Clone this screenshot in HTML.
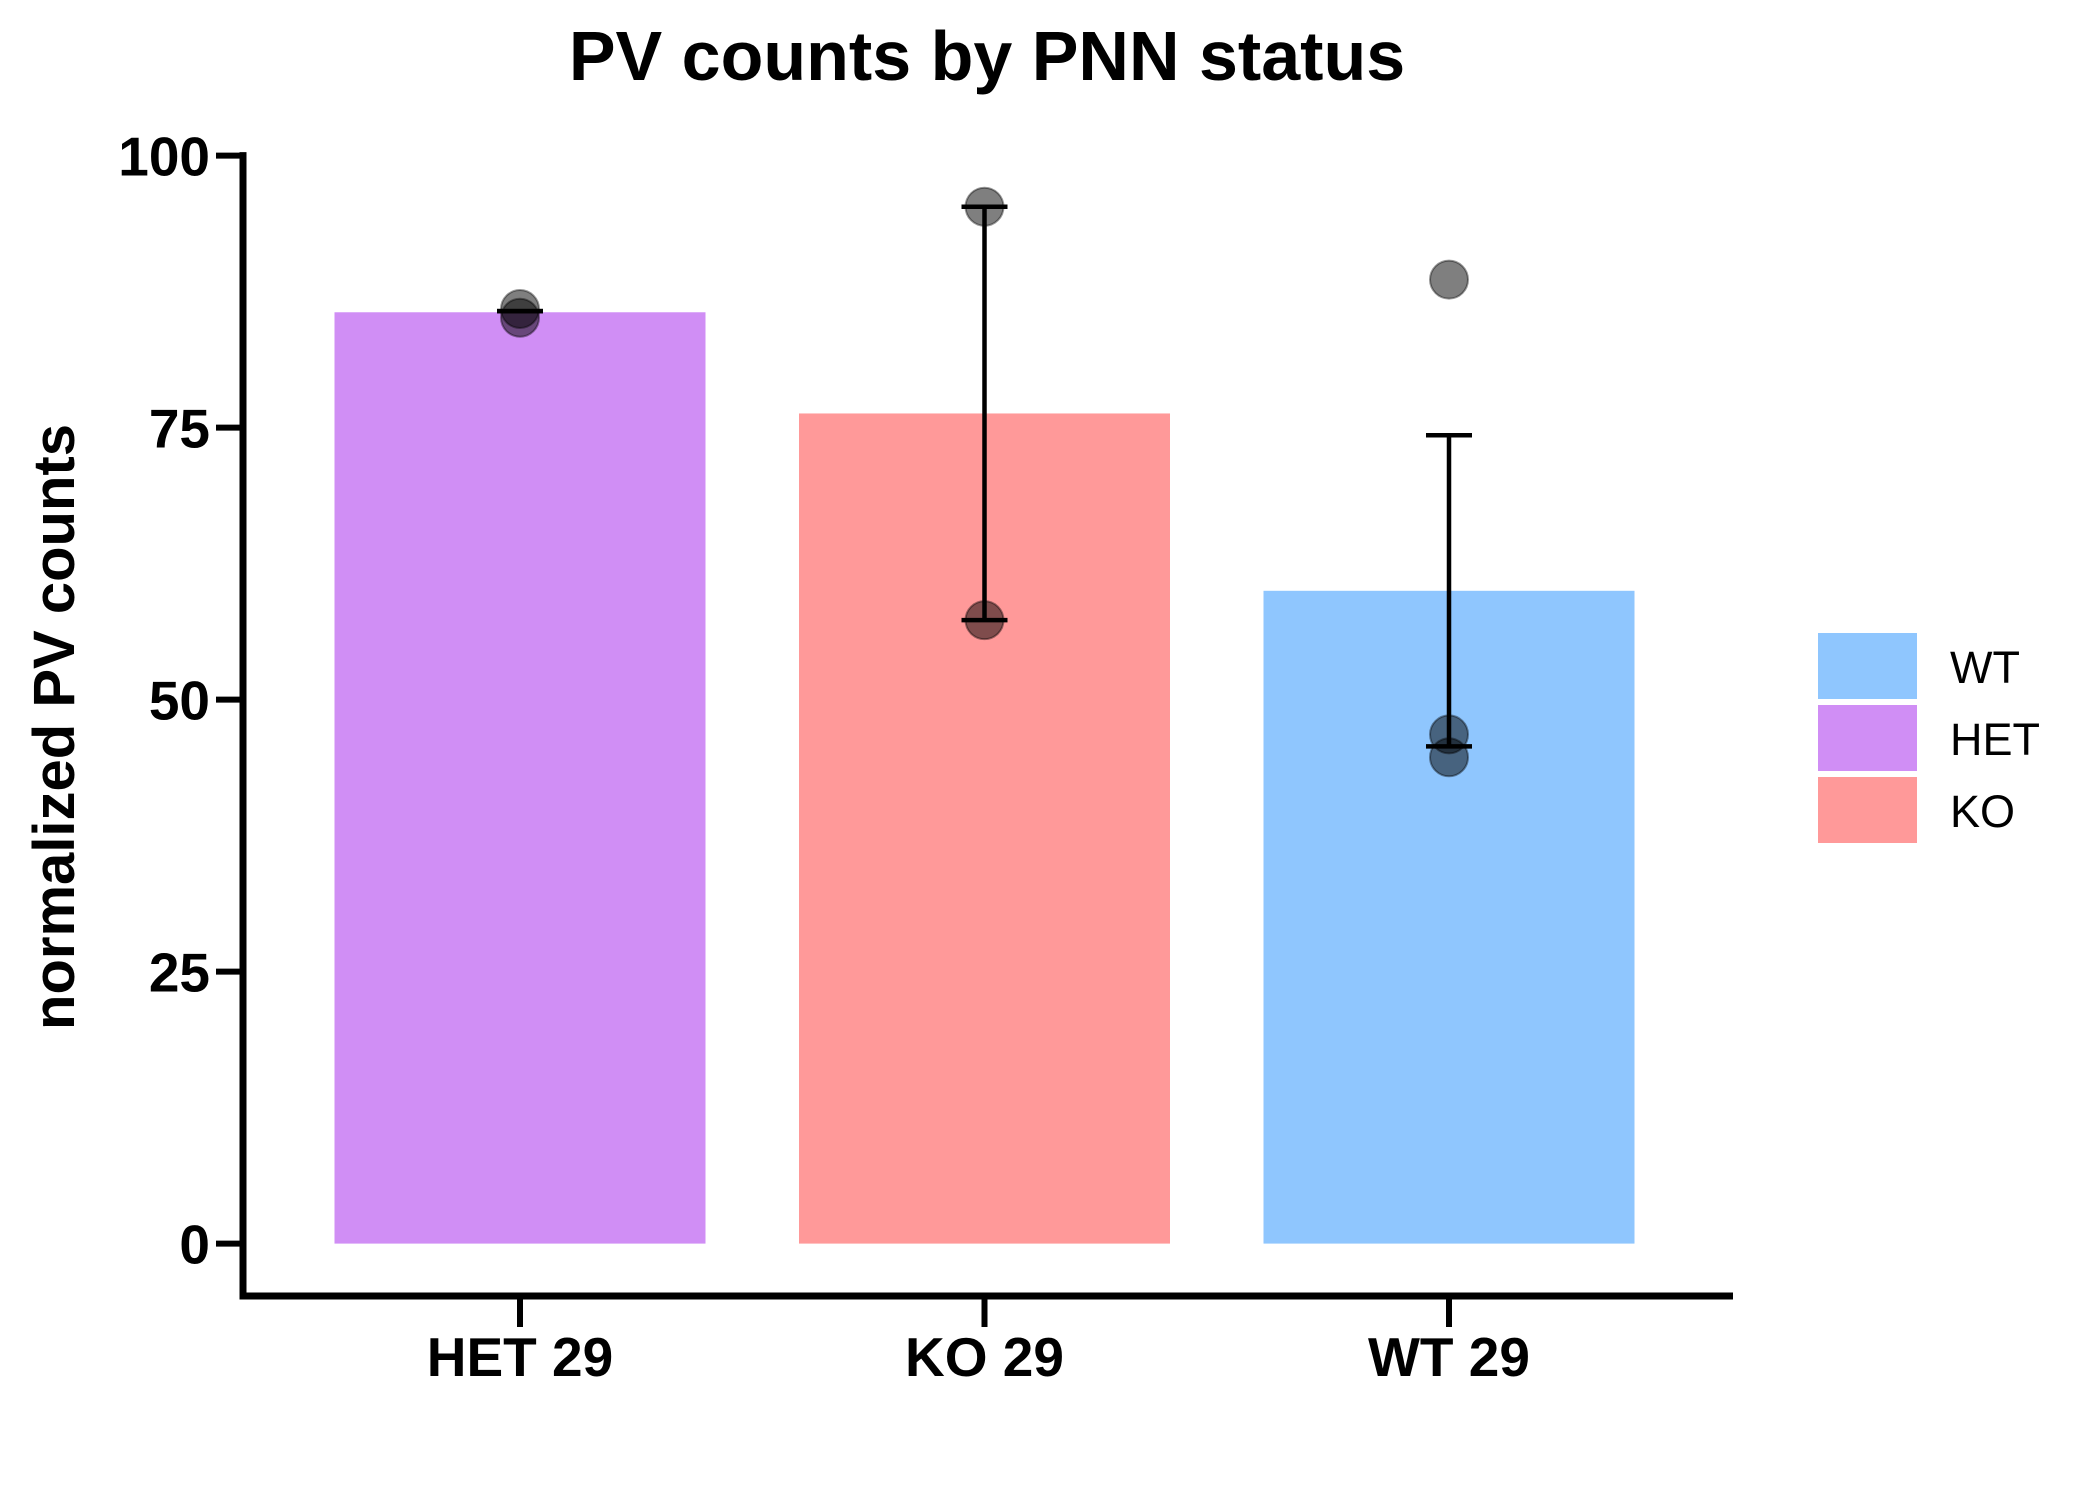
<!DOCTYPE html>
<html><head><meta charset="utf-8"><style>
html,body{margin:0;padding:0;background:#fff;}
svg{display:block;font-family:"Liberation Sans",Arial,sans-serif;}
</style></head><body>
<svg id="chart" width="2100" height="1500" viewBox="0 0 2100 1500">
<text x="987" y="80" font-size="70" font-weight="bold" text-anchor="middle">PV counts by PNN status</text>
<text transform="translate(74,727) rotate(-90)" font-size="58" font-weight="bold" text-anchor="middle">normalized PV counts</text>
<g id="bars"></g>
<g id="pts"></g>
<g id="errs"></g>
<g id="axes"></g>
<g id="legend"></g>
</svg>
<script>
const categories = ["HET 29", "KO 29", "WT 29"];
const barValues = [85.6, 76.3, 60.0];
const barColors = ["#d08ef5", "#ff9999", "#8fc6fe"];
const errLow = [85.7, 57.3, 45.7];
const errHigh = [85.7, 95.3, 74.3];
const pointsHET = [85.9, 85.1];
const pointsKO = [95.3, 57.3];
const pointsWT = [88.6, 46.8, 44.7];
const yTicks = [0, 25, 50, 75, 100];
const legendLabels = ["WT", "HET", "KO"];
const legendColors = ["#8fc6fe", "#d08ef5", "#ff9999"];

const NS = "http://www.w3.org/2000/svg";
function y(v){ return 1243.6 - v * 10.88; }
function x(i){ return 520 + i * 464.5; }
const BW = 371;
function mk(tag, attrs, parent){ const e = document.createElementNS(NS, tag); for (const k in attrs) e.setAttribute(k, attrs[k]); parent.appendChild(e); return e; }
const bars = document.getElementById('bars'), errs = document.getElementById('errs'), pts = document.getElementById('pts'), axes = document.getElementById('axes'), legend = document.getElementById('legend');

categories.forEach((c, i) => {
  const r = mk('rect', {x: x(i) - BW/2, y: y(barValues[i]), width: BW, height: y(0) - y(barValues[i]), fill: barColors[i]}, bars);
  
  
  const g = mk('g', {stroke: '#000', 'stroke-width': 4.5}, errs);
  
  
  mk('line', {x1: x(i), x2: x(i), y1: y(errLow[i]), y2: y(errHigh[i])}, g);
  mk('line', {x1: x(i) - 23, x2: x(i) + 23, y1: y(errLow[i]), y2: y(errLow[i])}, g);
  mk('line', {x1: x(i) - 23, x2: x(i) + 23, y1: y(errHigh[i]), y2: y(errHigh[i])}, g);
});
[pointsHET, pointsKO, pointsWT].forEach((arr, i) => {
  arr.forEach(v => {
    const c = mk('circle', {cx: x(i), cy: y(v), r: 19, fill: 'rgba(0,0,0,0.5)', stroke: 'rgba(0,0,0,0.4)', 'stroke-width': 2}, pts);
    
    
  });
});

const ya = mk('line', {x1: 243, x2: 243, y1: y(100) - 3.5, y2: 1299.5, stroke: '#000', 'stroke-width': 7}, axes);


const xa = mk('line', {x1: 239.5, x2: 1733, y1: 1296, y2: 1296, stroke: '#000', 'stroke-width': 7}, axes);


yTicks.forEach(t => {
  mk('line', {x1: 216, x2: 243, y1: y(t), y2: y(t), stroke: '#000', 'stroke-width': 6}, axes);
  const tx = mk('text', {x: 210, y: y(t) + 20, 'font-size': 55, 'font-weight': 'bold', 'text-anchor': 'end'}, axes);
  tx.textContent = t;
  
  
});
categories.forEach((c, i) => {
  mk('line', {x1: x(i), x2: x(i), y1: 1296, y2: 1327, stroke: '#000', 'stroke-width': 6}, axes);
  const tx = mk('text', {x: x(i), y: 1376, 'font-size': 55, 'font-weight': 'bold', 'text-anchor': 'middle'}, axes);
  tx.textContent = c;
  
  
});
legendLabels.forEach((l, i) => {
  const top = 633 + i * 72;
  const g = mk('g', {}, legend);
  
  
  mk('rect', {x: 1818, y: top, width: 99, height: 66, fill: legendColors[i]}, g);
  const tx = mk('text', {x: 1950, y: top + 50, 'font-size': 45}, g);
  tx.textContent = l;
});
</script>
</body></html>
